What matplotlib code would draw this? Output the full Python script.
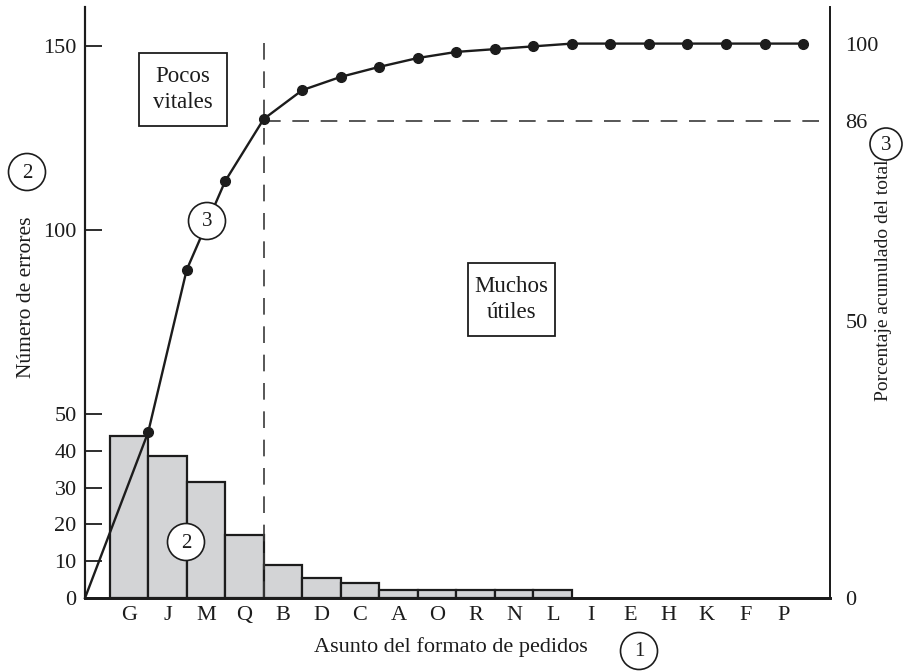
import matplotlib
matplotlib.use('Agg')
import matplotlib.pyplot as plt
from matplotlib.patches import Ellipse, Rectangle

# ---------------- data ----------------
categories = ['G', 'J', 'M', 'Q', 'B', 'D', 'C', 'A', 'O', 'R', 'N', 'L',
              'I', 'E', 'H', 'K', 'F', 'P']
errors = [44, 38.5, 31.5, 17, 9, 5.5, 4, 2.2, 2.2, 2.2, 2.2, 2.2,
          0, 0, 0, 0, 0, 0]
cum_pct = [29.9, 59.2, 75.2, 86.4, 91.6, 94.0, 95.8, 97.4, 98.5, 99.0,
           99.5, 100, 100, 100, 100, 100, 100, 100]
left_ticks = [0, 10, 20, 30, 40, 50, 100, 150]
right_ticks = [0, 50, 86, 100]
cutoff_pct = 86
n_vital = 4  # G, J, M, Q

x_label = 'Asunto del formato de pedidos'
y_label = 'Número de errores'
y2_label = 'Porcentaje acumulado del total'
box1 = 'Pocos\nvitales'
box2 = 'Muchos\nútiles'

# ---------------- style ----------------
plt.rcParams['font.family'] = ['Liberation Serif', 'DejaVu Serif']
INK = '#1c1c1c'
W, H = 904, 671
fig = plt.figure(figsize=(W / 100, H / 100), dpi=100)

def fx(px):
    return px / W

def fy(py):
    return 1 - py / H

ax = fig.add_axes([fx(85), fy(598), fx(830) - fx(85), fy(7) - fy(598)])
ax2 = ax.twinx()

x = list(range(len(categories)))
xl = (-1.14, 18.2)
ax.set_xlim(*xl)
ax.set_ylim(0, 160.6)
ax2.set_ylim(0, 106.6)

# bars
bx = [i for i, v in zip(x, errors) if v > 0]
bv = [v for v in errors if v > 0]
ax.bar(bx, bv, width=1.0, color='#d3d4d6', edgecolor=INK, linewidth=1.6, zorder=2)

# cumulative line (starts at the origin)
lx = [xl[0]] + [i + 0.5 for i in x]
ly = [0] + cum_pct
ax2.plot(lx, ly, color=INK, lw=1.7, zorder=3, clip_on=False)
ax2.plot([i + 0.5 for i in x], cum_pct, 'o', color=INK, ms=7, zorder=4, clip_on=False)

# dashed cutoff lines
xc = n_vital - 0.5
ax2.plot([xc, xc], [0, 101.2], color='#3a3a3a', lw=1.2, ls=(0, (10, 7)), zorder=1)
ax2.plot([xc, xl[1]], [cutoff_pct, cutoff_pct], color='#3a3a3a', lw=1.2,
         ls=(0, (10, 7)), zorder=1)

# spines / ticks
for a in (ax, ax2):
    a.spines['top'].set_visible(False)
    a.spines['left'].set_linewidth(1.5)
    a.spines['right'].set_linewidth(1.3)
    a.spines['bottom'].set_linewidth(2.0)
    for s in a.spines.values():
        s.set_color(INK)

ax.set_xticks(x)
ax.set_xticklabels(categories, fontsize=16, color=INK)
ax.tick_params(axis='x', length=0, pad=6)
ax.set_yticks(left_ticks)
ax.set_yticklabels([str(t) for t in left_ticks], fontsize=16, color=INK)
ax.tick_params(axis='y', direction='in', length=12, width=1.3, color=INK, pad=6)

ax2.set_yticks(right_ticks)
ax2.set_yticklabels([str(t) for t in right_ticks], fontsize=16, color=INK)
ax2.tick_params(axis='y', direction='in', length=0, pad=11)

# axis labels
fig.text(fx(451), fy(647), x_label, fontsize=16, color=INK, ha='center', va='center')
fig.text(fx(27), fy(297), y_label, fontsize=15.5, color=INK, ha='center', va='center',
         rotation=90)
fig.text(fx(884), fy(280), y2_label, fontsize=14, color=INK, ha='center', va='center',
         rotation=90)

# boxed annotations
def boxed(x0, y0, x1, y1, label):
    fig.patches.append(Rectangle((fx(x0), fy(y1)), fx(x1) - fx(x0), fy(y0) - fy(y1),
                                 transform=fig.transFigure, facecolor='white',
                                 edgecolor=INK, lw=1.3, zorder=5))
    fig.text(fx((x0 + x1) / 2), fy((y0 + y1) / 2), label, fontsize=16.5, color=INK,
             ha='center', va='center', linespacing=1.3, zorder=6)

boxed(139, 53, 227, 126, box1)
boxed(468, 263, 555, 336, box2)

# circled numbers
def circled(cx, cy, label, d=37):
    fig.patches.append(Ellipse((fx(cx), fy(cy)), d / W, d / H, transform=fig.transFigure,
                               facecolor='white', edgecolor=INK, lw=1.2, zorder=5))
    fig.text(fx(cx), fy(cy + 1), label, fontsize=15, color=INK, ha='center', va='center',
             zorder=6)

circled(27, 172, '2')
circled(207, 221, '3')
circled(186, 542, '2')
circled(886, 144, '3', d=32)
circled(639, 651, '1')

fig.savefig('out.png', dpi=100)
